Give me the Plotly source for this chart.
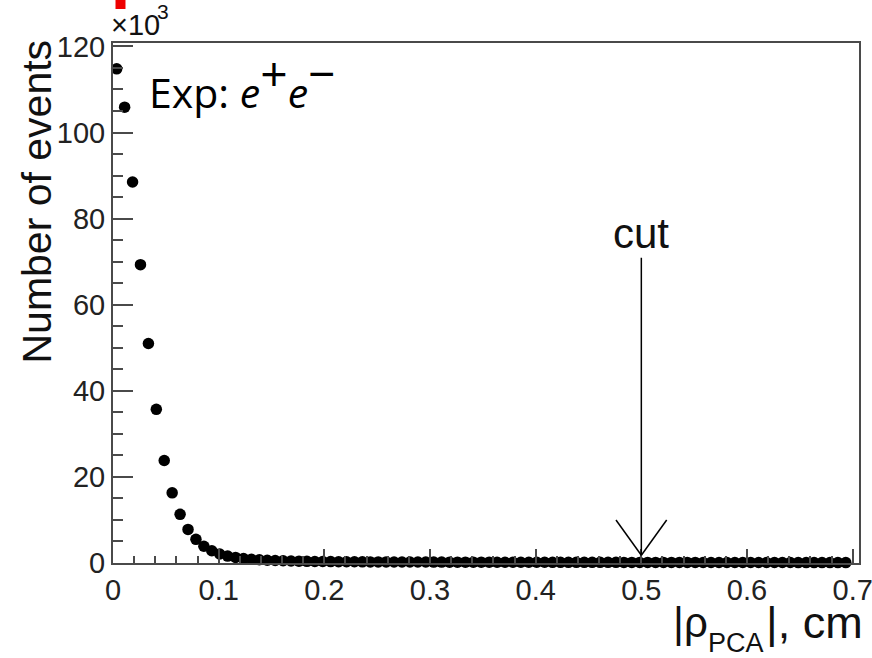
import plotly.graph_objects as go

# ---------------- data ----------------
BIN_WIDTH = 0.0075
FIRST_CENTER = 0.0035
counts_k = [
    114.8, 105.9, 88.5, 69.3, 51.0, 35.7, 23.8, 16.3, 11.3, 7.8, 5.5, 3.9, 2.85, 2.1, 1.6,
    1.3, 1.05, 0.88, 0.75, 0.65, 0.57, 0.51, 0.46, 0.42, 0.39, 0.36, 0.34, 0.32, 0.30, 0.29,
    0.28, 0.27, 0.26, 0.25, 0.25, 0.24, 0.23, 0.23, 0.22, 0.22, 0.21, 0.21, 0.20, 0.20, 0.20,
    0.19, 0.19, 0.19, 0.18, 0.18, 0.18, 0.17, 0.17, 0.17, 0.17, 0.16, 0.16, 0.16, 0.16, 0.15,
    0.15, 0.15, 0.15, 0.15, 0.14, 0.14, 0.14, 0.14, 0.14, 0.13, 0.13, 0.13, 0.13, 0.13, 0.12,
    0.12, 0.12, 0.12, 0.12, 0.12, 0.11, 0.11, 0.11, 0.11, 0.11, 0.11, 0.10, 0.10, 0.10, 0.10,
    0.10, 0.10, 0.10,
]
rho = [FIRST_CENTER + i * BIN_WIDTH for i in range(len(counts_k))]

x_ticks = [0, 0.1, 0.2, 0.3, 0.4, 0.5, 0.6, 0.7]
x_tick_labels = ["0", "0.1", "0.2", "0.3", "0.4", "0.5", "0.6", "0.7"]
y_ticks = [0, 20, 40, 60, 80, 100, 120]
y_tick_labels = ["0", "20", "40", "60", "80", "100", "120"]

CUT = 0.5
CUT_TOP = 70.9
CUT_TIP = 1.8
WING_DX = 0.024
WING_Y = 10.0
CUT_LABEL_Y = 76.5

X_RANGE = [0, 0.706]
Y_RANGE = [0, 120.8]

FRAME = "#4a4a4a"
FONT = "Liberation Sans, Arial, sans-serif"
TXT = "#111"

fig = go.Figure()
fig.add_trace(go.Scatter(
    x=rho, y=counts_k, mode="markers",
    marker=dict(color="black", size=11.5, line=dict(width=0)),
    showlegend=False, cliponaxis=False,
))

# cut arrow
fig.add_shape(type="line", xref="x", yref="y", x0=CUT, x1=CUT, y0=CUT_TOP, y1=CUT_TIP,
              line=dict(color="black", width=1.5))
fig.add_shape(type="line", xref="x", yref="y", x0=CUT - WING_DX, x1=CUT, y0=WING_Y, y1=CUT_TIP,
              line=dict(color="black", width=1.5))
fig.add_shape(type="line", xref="x", yref="y", x0=CUT + WING_DX, x1=CUT, y0=WING_Y, y1=CUT_TIP,
              line=dict(color="black", width=1.5))
fig.add_annotation(x=CUT, y=CUT_LABEL_Y, xref="x", yref="y", text="cut", showarrow=False,
                   font=dict(family=FONT, size=42, color=TXT), xanchor="center", yanchor="middle")

# y-axis title
fig.add_annotation(x=-0.102, y=0.695, xref="paper", yref="paper", text="Number of events",
                   textangle=-90, showarrow=False, font=dict(family=FONT, size=41, color=TXT),
                   xanchor="center", yanchor="middle")

# x-axis title in three parts (deep subscript as in the reference)
def px_x(px):
    return (px - 112.5) / 746.5

def px_y(py):
    return (563 - py) / 520

fig.add_annotation(x=px_x(710), y=px_y(622), xref="paper", yref="paper", text="|ρ",
                   showarrow=False, font=dict(family=FONT, size=42, color=TXT),
                   xanchor="right", yanchor="middle")
fig.add_annotation(x=px_x(706), y=px_y(643), xref="paper", yref="paper", text="PCA",
                   showarrow=False, font=dict(family=FONT, size=27, color=TXT),
                   xanchor="left", yanchor="middle")
fig.add_annotation(x=px_x(764), y=px_y(622), xref="paper", yref="paper", text="|, cm",
                   showarrow=False, font=dict(family=FONT, size=45, color=TXT),
                   xanchor="left", yanchor="middle")

# exponent
fig.add_annotation(x=px_x(108), y=px_y(25), xref="paper", yref="paper",
                   text="×10", showarrow=False, font=dict(family=FONT, size=29, color=TXT),
                   xanchor="left", yanchor="middle")
fig.add_annotation(x=px_x(155), y=px_y(12), xref="paper", yref="paper",
                   text="3", showarrow=False, font=dict(family=FONT, size=21, color=TXT),
                   xanchor="left", yanchor="middle")
# experiment label
fig.add_annotation(x=px_x(147), y=px_y(80), xref="paper", yref="paper",
                   text=("Exp: <i>e</i><sup><span style='font-size:48px'>+</span></sup>"
                         "<i>e</i><sup><span style='font-size:48px'>−</span></sup>"),
                   showarrow=False,
                   font=dict(family="Open Sans, Noto Sans, sans-serif", size=41, color="black"),
                   xanchor="left", yanchor="middle")

# red mark at top
fig.add_shape(type="rect", xref="paper", yref="paper", x0=px_x(115), x1=px_x(125),
              y0=px_y(9), y1=px_y(-2), fillcolor="#ee0000", line=dict(width=0))

fig.update_xaxes(
    range=X_RANGE, tickvals=x_ticks, ticktext=x_tick_labels, ticklabeloverflow="allow",
    automargin=False,
    showgrid=False, zeroline=False, showline=True, linecolor=FRAME, linewidth=2, mirror=True,
    ticks="inside", ticklen=14, tickwidth=1.5, tickcolor=FRAME,
    minor=dict(dtick=0.02, ticks="inside", ticklen=7, tickwidth=1.5, tickcolor=FRAME, showgrid=False),
    tickfont=dict(family=FONT, size=29, color="#222"),
)
fig.update_yaxes(
    range=Y_RANGE, tickvals=y_ticks, ticktext=y_tick_labels, ticklabeloverflow="allow",
    automargin=False,
    showgrid=False, zeroline=False, showline=True, linecolor=FRAME, linewidth=2, mirror=True,
    ticks="inside", ticklen=20, tickwidth=1.5, tickcolor=FRAME,
    minor=dict(dtick=5, ticks="inside", ticklen=10, tickwidth=1.5, tickcolor=FRAME, showgrid=False),
    tickfont=dict(family=FONT, size=29, color="#222"),
)

fig.update_layout(
    width=872, height=658,
    margin=dict(l=112.5, r=13, t=43, b=95),
    paper_bgcolor="white", plot_bgcolor="white",
)

fig.write_html("out.html")
